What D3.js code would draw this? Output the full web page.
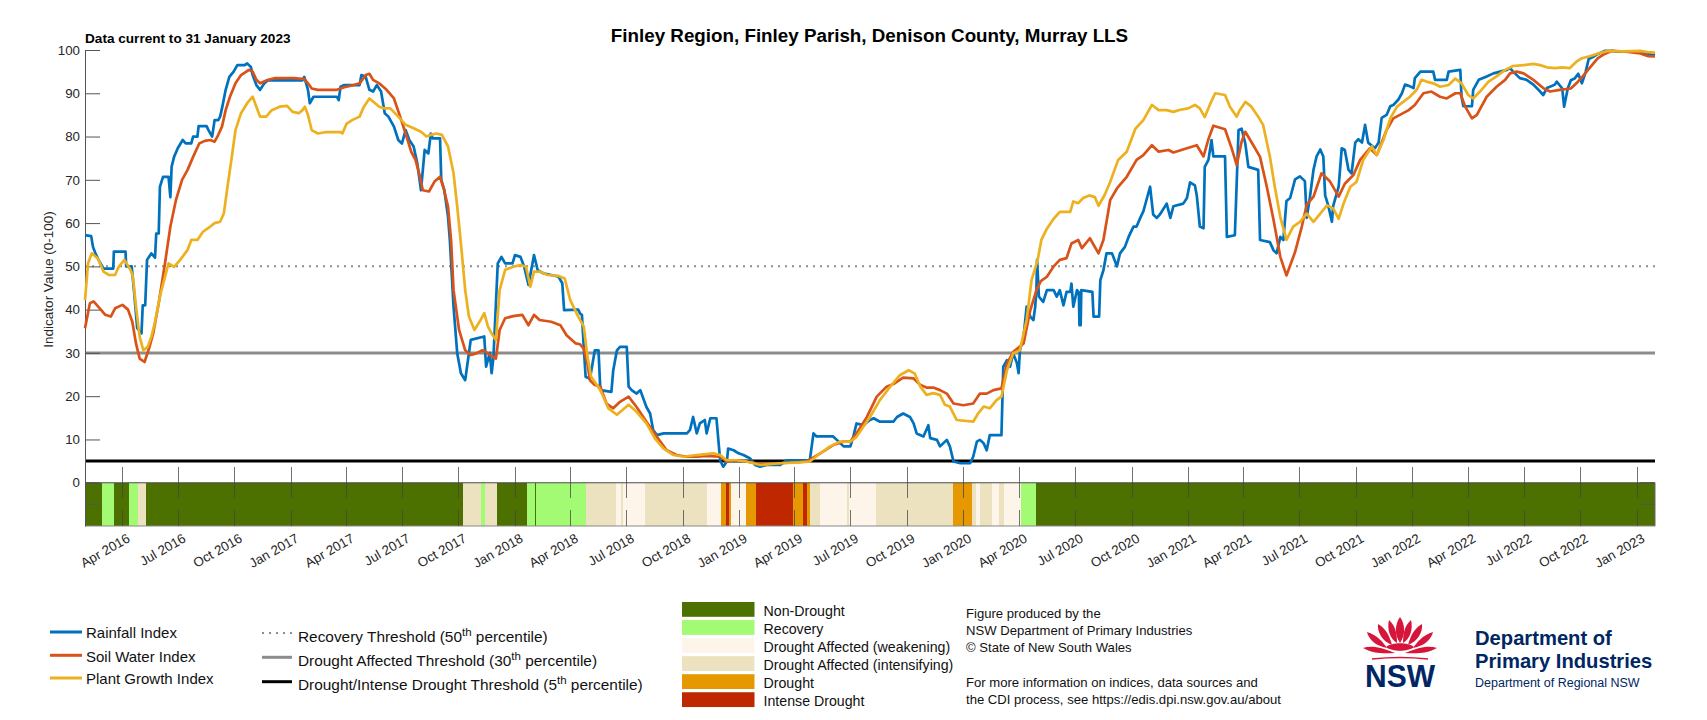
<!DOCTYPE html>
<html><head><meta charset="utf-8">
<script src="https://cdn.jsdelivr.net/npm/d3@7"></script>
<style>
body{margin:0;background:#fff}
text{font-family:"Liberation Sans",Arial,Helvetica,sans-serif}
</style>
</head><body>
<svg id="chart" width="1707" height="720"></svg>
<script>
// ---------------- DATA ----------------
const startDate = "2016-02-01";   // day 0 of the series
const endDate = "2023-01-31";
const chartTitle = "Finley Region, Finley Parish, Denison County, Murray LLS";
const dataNote = "Data current to 31 January 2023";
const yTickValues = [0,10,20,30,40,50,60,70,80,90,100];

// [days since startDate, index value]
const rainfallIndex = [[0,57.2],[10,57],[13,54.5],[17,53],[22,51.5],[30,49.5],[46,49.5],[47,53.4],[66,53.4],[67,50],[76,50],[80,44],[85,35.7],[92,34.5],[94,41],[98,41],[101,51.5],[108,53],[114,52],[116,57.6],[120,57.6],[122,68.4],[127,70.7],[136,70.7],[139,66],[141,73],[145,75.3],[151,77.3],[159,79.2],[164,78.4],[173,78.4],[176,80],[183,80],[185,82.4],[198,82.4],[201,81.5],[207,80],[211,83.8],[217,83.8],[220,84.6],[223,86.5],[229,90.8],[235,93.8],[242,95],[248,96.5],[260,96.5],[264,96.9],[270,96.1],[273,94.2],[279,91.9],[285,90.8],[292,92.3],[298,93],[354,93],[357,93.8],[360,92.3],[363,90.8],[366,87.7],[372,89.2],[410,89.2],[413,88.4],[416,91.5],[422,91.9],[447,91.9],[450,94.2],[457,93.8],[463,90.8],[469,90.4],[475,91.9],[482,90.4],[488,85.4],[494,84.6],[503,82.3],[510,79.2],[516,78.4],[522,81.5],[528,79.2],[535,77.7],[541,73.8],[547,67.6],[553,76.9],[559,76.1],[563,80.7],[566,79.6],[578,79.6],[580,70],[585,67.6],[591,61.5],[594,56],[600,40.7],[606,29.9],[612,25.3],[619,23.7],[622,26.8],[628,33],[650,33.8],[653,26.8],[659,30],[662,25.3],[665,29.1],[672,50.7],[678,52.2],[684,50.7],[696,50.7],[700,52.6],[709,52.2],[715,49.9],[722,45.7],[731,52.6],[737,49.1],[746,48.4],[759,48],[771,47.6],[777,46.1],[780,39.9],[803,40],[806,39.1],[809,38.8],[812,31.4],[815,24.5],[822,24],[830,30.6],[836,30.6],[839,21.4],[857,21],[860,26],[866,30.6],[871,31.4],[882,31.4],[885,22.2],[890,21.4],[898,20.6],[904,21.4],[914,17.5],[920,16],[925,12.2],[931,11],[942,11.4],[980,11.4],[985,12.2],[990,15.2],[996,11.4],[1001,13.7],[1009,14.5],[1012,11.4],[1018,14.9],[1028,14.9],[1034,5.2],[1039,3.7],[1045,4.9],[1047,7.9],[1056,7.5],[1064,6.8],[1072,6.4],[1083,5.6],[1091,4.1],[1099,3.7],[1110,4.1],[1132,4.1],[1142,5.2],[1180,5.2],[1186,11.4],[1191,10.7],[1218,10.7],[1224,9.9],[1235,8.4],[1246,8.4],[1251,10.7],[1256,13.7],[1267,13.3],[1278,14.5],[1284,14.9],[1294,14.1],[1316,14.1],[1322,15.2],[1332,16],[1343,15.2],[1349,13.7],[1354,11.4],[1365,10.7],[1373,13.3],[1376,10.3],[1387,9.9],[1392,8.4],[1403,9.9],[1408,8.4],[1414,4.9],[1425,4.5],[1441,4.5],[1446,6],[1452,9.5],[1457,9.9],[1463,9.1],[1468,7.5],[1473,11],[1492,11],[1495,26.8],[1501,28.3],[1506,26.8],[1511,29.9],[1517,27.7],[1520,25.3],[1522,30.6],[1528,33.7],[1533,40.7],[1539,38.4],[1544,37.6],[1547,40.7],[1549,45],[1550,51.5],[1553,43],[1560,41.8],[1566,44.5],[1577,44.5],[1582,43],[1587,44.5],[1593,41],[1598,44.1],[1604,44.1],[1606,46],[1609,40.7],[1615,44.5],[1618,44],[1619,36.4],[1621,36.4],[1622,44.5],[1640,44.1],[1642,38.4],[1651,38.4],[1653,46.8],[1658,49.1],[1663,53],[1672,53],[1680,50],[1685,53],[1693,54.5],[1699,56.8],[1707,59.2],[1712,59.2],[1718,61.2],[1723,62.7],[1729,65.8],[1734,68.4],[1739,62],[1745,61.2],[1750,62],[1761,64.5],[1767,61.2],[1772,63.9],[1788,64.5],[1794,65.8],[1799,69.4],[1807,68.7],[1810,66.4],[1815,59.2],[1821,58.8],[1823,73],[1829,74.6],[1834,79.2],[1837,75.4],[1856,75.4],[1859,56.8],[1872,57.2],[1878,81.5],[1883,81.8],[1889,78.4],[1894,73],[1910,72.3],[1913,56.1],[1929,55.6],[1935,53.7],[1940,53],[1946,56.8],[1951,56.1],[1956,65.1],[1962,65.8],[1970,70.1],[1978,70.8],[1986,69.7],[1989,61.2],[1994,65.8],[2000,72.3],[2005,75.4],[2011,77],[2016,75.4],[2019,66.4],[2024,64.1],[2030,60.3],[2032,63.9],[2041,68.4],[2046,77.3],[2051,76.9],[2057,72.3],[2062,71.5],[2068,78.6],[2073,79.4],[2079,78.6],[2084,82.7],[2089,78.6],[2100,77.3],[2106,78.6],[2111,84.3],[2119,85],[2125,87],[2130,87.3],[2138,88.5],[2144,90],[2149,92],[2157,91.6],[2163,91.2],[2165,93.5],[2174,95],[2195,95],[2198,93.1],[2217,93.1],[2220,95],[2239,95.4],[2241,89.2],[2244,87],[2258,87],[2260,90.8],[2269,93.1],[2282,93.9],[2293,94.6],[2304,95],[2315,95.4],[2320,95.8],[2325,95],[2336,93.5],[2347,93.1],[2358,92],[2369,90.4],[2374,89.6],[2380,91.2],[2393,92],[2396,92.7],[2405,91.1],[2408,86.9],[2414,91.1],[2419,93],[2425,93.4],[2431,94.5],[2437,92.3],[2443,94.9],[2448,97.9],[2454,98.3],[2463,99.1],[2474,99.8],[2486,99.8],[2498,99.6],[2532,99.6],[2541,99.2],[2556,98.8]];

const soilWaterIndex = [[0,35.7],[8,41.5],[14,41.9],[24,40.3],[33,38.8],[42,38.4],[49,40.3],[61,41.1],[70,40],[77,37.2],[83,32.2],[89,28.7],[97,27.9],[105,31.4],[111,34.5],[120,41.5],[130,50.5],[139,59.2],[148,65.3],[158,70],[167,72.3],[176,75.3],[186,78.4],[195,79],[204,79.2],[211,78.8],[217,80.4],[223,82.3],[229,86.1],[236,89.2],[245,92.3],[254,94.2],[267,95.4],[273,95],[279,93.1],[285,92.3],[298,93.1],[310,93.5],[341,93.5],[357,93.3],[363,92.3],[369,91.1],[379,90.8],[410,90.8],[422,91.4],[435,91.8],[447,92.3],[457,94.2],[463,94.5],[469,93.1],[479,92.3],[491,90.8],[503,88.8],[513,84.6],[522,80.7],[531,76.5],[538,74.6],[544,71.5],[550,67.6],[560,67.3],[569,69.6],[578,70.7],[584,68],[591,63.8],[596,56],[600,44.5],[609,35.3],[619,30.6],[628,29.5],[637,29.9],[647,30.6],[653,30.2],[659,29.5],[669,28.7],[675,35.3],[684,38],[697,38.5],[712,38.8],[722,36.4],[731,38.8],[740,37.6],[759,37.2],[774,36.4],[784,34.1],[799,32.2],[806,32],[812,31],[818,27.5],[822,23.7],[830,22.6],[839,22.2],[849,18.3],[860,17.2],[871,18.7],[885,19.9],[898,17.5],[914,14.1],[931,10.6],[947,7.5],[963,6.4],[980,6],[996,6],[1012,6.2],[1034,6],[1045,4.9],[1056,5.2],[1077,4.9],[1099,4.3],[1132,4.5],[1175,4.9],[1197,6.8],[1218,8.7],[1235,9.5],[1246,9.5],[1256,11.4],[1273,15.2],[1289,19.9],[1305,22.2],[1316,22.8],[1332,24.3],[1349,24.1],[1360,22.6],[1370,22],[1381,22],[1392,21.4],[1403,20.6],[1414,18.3],[1430,17.9],[1446,18.3],[1457,20.6],[1468,20.6],[1479,21.4],[1492,21.8],[1501,27.5],[1511,30.2],[1528,32.2],[1539,39.9],[1549,44.5],[1556,46.6],[1566,47.6],[1577,50],[1587,51.5],[1598,51.9],[1606,55.3],[1617,56.1],[1623,54.2],[1636,56.5],[1650,53],[1658,56.1],[1669,65.3],[1680,68],[1696,70.7],[1712,74.6],[1723,75.7],[1737,78],[1748,76.5],[1764,76.9],[1772,76.3],[1794,77.3],[1810,78],[1821,75.4],[1829,79.4],[1837,82.5],[1856,81.7],[1867,77.2],[1875,73.4],[1883,78.8],[1889,81.1],[1902,78],[1913,75.3],[1924,68.4],[1935,60.7],[1946,52.2],[1956,47.9],[1970,53.3],[1981,59.2],[1989,64.2],[2000,66.1],[2013,71.5],[2027,69.6],[2041,66.1],[2051,69.1],[2065,71.1],[2076,74.6],[2092,77.3],[2103,75.7],[2119,81.5],[2130,84.2],[2146,85.4],[2155,86.1],[2165,87.3],[2179,90],[2192,90.4],[2206,89.2],[2217,88.8],[2231,90],[2239,90],[2247,86.9],[2258,84.2],[2266,85],[2282,89.2],[2298,91.5],[2312,93.1],[2320,94.6],[2331,95],[2342,94.6],[2358,93.1],[2374,91.2],[2385,90.4],[2401,90.8],[2419,91.1],[2428,92.3],[2440,94.2],[2451,96.1],[2463,98.1],[2474,99.1],[2486,99.8],[2509,99.6],[2532,99.2],[2544,98.6],[2556,98.5]];

const plantGrowthIndex = [[0,42.2],[5,50.7],[11,53],[21,51.8],[30,48.8],[39,48],[49,48],[55,49.9],[64,51.5],[74,49.2],[78,47.6],[83,40.7],[89,33.7],[95,30.6],[102,31.4],[108,33.7],[114,37.2],[123,43.7],[136,50.7],[145,49.9],[155,51.5],[167,53.8],[173,56.1],[183,56.1],[192,58],[204,59.2],[211,60],[220,60.3],[226,62.2],[232,68.4],[239,75.3],[245,81.5],[254,85.4],[264,87.7],[273,89.2],[279,86.9],[285,84.6],[295,84.6],[304,86.1],[317,86.9],[329,87.1],[338,85.7],[348,85.4],[354,86.1],[358,86.9],[363,85],[369,81.5],[379,80.7],[391,81],[416,81],[419,80.7],[426,83],[435,83.8],[447,84.6],[454,86.9],[463,88.8],[469,88.1],[479,86.9],[488,86.5],[497,86.5],[510,84.6],[522,82.7],[535,81.9],[547,81.1],[556,80],[563,80.4],[572,80.7],[581,80.4],[591,77.7],[600,71.5],[606,63.8],[612,55.3],[619,44.5],[625,38.4],[634,35.3],[644,37.6],[650,39.2],[656,36.1],[662,34.5],[669,33],[675,44.5],[684,49.2],[697,49.9],[709,50.3],[718,49.9],[725,45.3],[731,48.8],[740,48.8],[753,48],[771,47.8],[781,47.2],[790,42.2],[803,38.4],[812,36.1],[818,29.1],[824,24.5],[839,21.4],[852,17.2],[866,15.7],[885,18],[898,16.4],[914,13.7],[928,10.2],[942,7.9],[958,6.4],[974,6],[996,6.4],[1023,6.8],[1034,6.4],[1045,5.2],[1061,5.2],[1077,4.9],[1099,4.1],[1132,4.5],[1164,4.7],[1180,4.9],[1197,6.8],[1213,8.4],[1229,9.5],[1246,9.5],[1256,10.6],[1278,15.2],[1294,19.1],[1311,22.2],[1327,24.9],[1341,26],[1351,25.2],[1360,22.2],[1370,20.3],[1381,20.7],[1392,20.3],[1400,18],[1408,17.6],[1419,14.5],[1446,14.1],[1454,16],[1463,17.6],[1473,17.2],[1484,19.1],[1492,19.9],[1501,26],[1511,29.9],[1522,30.6],[1533,37.6],[1541,46.8],[1551,51.5],[1557,56.1],[1566,58.7],[1577,61],[1587,62.6],[1598,62.6],[1604,62.6],[1609,65],[1617,64.6],[1625,65.8],[1635,66.4],[1644,66],[1650,64],[1660,66.5],[1669,69.5],[1682,74.6],[1696,76.5],[1710,81.8],[1723,83.8],[1737,87.3],[1748,86.1],[1761,86.1],[1772,85.7],[1783,86.2],[1796,86.5],[1807,87.3],[1815,86.5],[1823,84.5],[1832,87.6],[1840,90],[1856,89.6],[1864,86.9],[1875,84.6],[1880,86.1],[1889,88],[1899,86.9],[1910,84.6],[1918,82.7],[1929,75.4],[1937,68.4],[1946,61.4],[1956,56.1],[1967,59.2],[1978,60.3],[1989,62.2],[2000,60.3],[2011,62.2],[2022,64.1],[2032,63.4],[2041,61],[2049,64.5],[2060,68.4],[2070,69.5],[2081,74.6],[2095,77.7],[2103,75.7],[2114,79.2],[2125,84.2],[2136,86.9],[2146,88],[2157,89.2],[2168,90.8],[2176,93.1],[2184,92.7],[2195,92.3],[2206,91.5],[2220,91.9],[2231,93.4],[2241,92.3],[2252,89.6],[2260,88.8],[2271,90.4],[2285,92.7],[2298,93.9],[2312,95.4],[2325,96.3],[2342,96.5],[2358,96.8],[2369,96.5],[2380,96],[2393,95.8],[2405,96],[2417,95.8],[2428,97.3],[2437,98.1],[2451,98.6],[2463,99.2],[2480,99.8],[2503,99.7],[2532,99.8],[2544,99.5],[2556,99.4]];

const seriesNames = ["Rainfall Index","Soil Water Index","Plant Growth Index"];
const seriesColors = ["#0072BD","#D95319","#EDB120"];

const thresholdValues = [50,30,5];
const thresholdNames = ["Recovery Threshold (50","Drought Affected Threshold (30","Drought/Intense Drought Threshold (5"];

const categoryNames = ["Non-Drought","Recovery","Drought Affected (weakening)","Drought Affected (intensifying)","Drought","Intense Drought"];
const categoryColors = ["#4C7100","#A3FB73","#FDF5EA","#EDE2BF","#E69800","#BE2700"];

// CDI phase changes: start date and category index
const cdiStarts = ["2016-02-01","2016-02-29","2016-03-19","2016-04-12","2016-04-28","2016-05-10","2017-10-08","2017-11-06","2017-11-13","2017-12-03","2018-01-20","2018-02-02","2018-02-05","2018-04-26","2018-06-14","2018-06-22","2018-06-26","2018-07-31","2018-11-09","2018-12-02","2018-12-10","2018-12-15","2018-12-18","2019-01-12","2019-01-28","2019-03-30","2019-04-15","2019-04-21","2019-04-26","2019-05-12","2019-06-26","2019-06-29","2019-08-11","2019-12-15","2020-01-15","2020-01-22","2020-01-28","2020-02-17","2020-02-28","2020-03-07","2020-04-04","2020-04-28"];
const cdiCategory = [0,1,0,1,3,0,3,1,3,0,1,0,1,3,2,3,2,3,2,4,5,4,2,4,5,4,5,4,3,2,3,2,3,4,3,2,3,2,3,2,1,0];

const creditLines = ["Figure produced by the","NSW Department of Primary Industries","\u00A9 State of New South Wales","","For more information on indices, data sources and","the CDI process, see https://edis.dpi.nsw.gov.au/about"];

// ---------------- DRAW ----------------
const svg = d3.select("#chart");
svg.append("rect").attr("width",1707).attr("height",720).attr("fill","#fff");
const parse = d3.utcParse("%Y-%m-%d");
const t0 = parse(startDate), t1 = parse(endDate);
const toDate = d => d3.utcDay.offset(t0, d);

const x = d3.scaleUtc().domain([t0, t1]).range([85, 1655]);
const y = d3.scaleLinear().domain([-10, 100]).range([526, 50]);

// CDI strip
const segs = cdiStarts.map((s,i)=>({
  a: parse(s),
  b: i < cdiStarts.length-1 ? parse(cdiStarts[i+1]) : t1,
  c: cdiCategory[i]
}));
svg.append("g").attr("shape-rendering","crispEdges").selectAll("rect").data(segs).join("rect")
  .attr("x", d=>x(d.a)).attr("width", d=>Math.max(0.5, x(d.b)-x(d.a)+0.3))
  .attr("y", y(0)).attr("height", y(-10)-y(0))
  .attr("fill", d=>categoryColors[d.c]);

// strip frame
svg.append("line").attr("x1",85).attr("x2",1655).attr("y1",y(0)).attr("y2",y(0)).attr("stroke","#4a4a4a").attr("stroke-width",1.2);
svg.append("line").attr("x1",85).attr("x2",1655).attr("y1",y(-10)).attr("y2",y(-10)).attr("stroke","#8a8a8a").attr("stroke-width",1.2);
svg.append("line").attr("x1",1655).attr("x2",1655).attr("y1",y(0)).attr("y2",y(-10)).attr("stroke","#6a6a6a").attr("stroke-width",1);
[0,-5].forEach(v=>{
  svg.append("line").attr("x1",1640).attr("x2",1655).attr("y1",y(v)).attr("y2",y(v)).attr("stroke","#555").attr("stroke-width",1);
  svg.append("line").attr("x1",85).attr("x2",100).attr("y1",y(v)).attr("y2",y(v)).attr("stroke","#555").attr("stroke-width",1);
});

// thresholds
const thrStyle = [{c:"#8c8c8c",w:2,dash:"2,5"},{c:"#8c8c8c",w:3,dash:null},{c:"#000",w:3,dash:null}];
thresholdValues.forEach((v,i)=>{
  svg.append("line").attr("x1",85).attr("x2",1655).attr("y1",y(v)).attr("y2",y(v))
    .attr("stroke",thrStyle[i].c).attr("stroke-width",thrStyle[i].w)
    .attr("stroke-dasharray",thrStyle[i].dash);
});

// x ticks
const xTicks = x.ticks(d3.utcMonth.every(3)).filter(d=>d>t0);
const xg = svg.append("g");
xTicks.forEach(d=>{
  const px = Math.round(x(d))+0.5;
  xg.append("line").attr("x1",px).attr("x2",px).attr("y1",467).attr("y2",498).attr("stroke","#444").attr("stroke-opacity",0.75);
  xg.append("line").attr("x1",px).attr("x2",px).attr("y1",510).attr("y2",526).attr("stroke","#444").attr("stroke-opacity",0.75);
});
const fmt = d3.utcFormat("%b %Y");
xg.selectAll("text.xl").data(xTicks).join("text").attr("class","xl")
  .attr("transform", d=>`translate(${x(d)+9},${541}) rotate(-30)`)
  .attr("text-anchor","end").attr("font-size",13.3).attr("fill","#262626")
  .text(d=>fmt(d));

// y axis
const yAxis = d3.axisLeft(y).tickValues(yTickValues).tickSize(-15).tickSizeOuter(0).tickPadding(5);
const yg = svg.append("g").attr("transform","translate(85,0)").call(yAxis);
yg.select(".domain").attr("stroke","#555");
yg.selectAll(".tick line").attr("stroke","#555");
yg.selectAll(".tick text").attr("font-size",13.3).attr("fill","#262626")
  .style("font-family",'"Liberation Sans",Arial,sans-serif');
svg.append("text").attr("transform",`translate(53,${279.5}) rotate(-90)`).attr("text-anchor","middle")
  .attr("font-size",13.5).attr("fill","#262626").text("Indicator Value (0-100)");

// series lines
const line = d3.line().x(d=>x(toDate(d[0]))).y(d=>y(d[1]));
[rainfallIndex, soilWaterIndex, plantGrowthIndex].forEach((s,i)=>{
  svg.append("path").datum(s).attr("d",line).attr("fill","none")
    .attr("stroke",seriesColors[i]).attr("stroke-width",2.7).attr("stroke-linejoin","round");
});

// titles
svg.append("text").attr("x",869.5).attr("y",41.5).attr("text-anchor","middle")
  .attr("font-size",18.8).attr("font-weight","bold").attr("fill","#000").text(chartTitle);
svg.append("text").attr("x",85).attr("y",43).attr("font-size",13.6).attr("font-weight","bold").attr("fill","#000").text(dataNote);

// legend: series
const serY = [632, 655.3, 678];
seriesNames.forEach((n,i)=>{
  svg.append("line").attr("x1",50).attr("x2",82).attr("y1",serY[i]).attr("y2",serY[i]).attr("stroke",seriesColors[i]).attr("stroke-width",3);
  svg.append("text").attr("x",86).attr("y",serY[i]+6.3).attr("font-size",15).attr("fill","#111").text(n);
});
// legend: thresholds
const thrY = [633, 657.3, 681.7];
thresholdNames.forEach((n,i)=>{
  svg.append("line").attr("x1",262).attr("x2",292).attr("y1",thrY[i]).attr("y2",thrY[i])
    .attr("stroke",thrStyle[i].c).attr("stroke-width",i===0?2:3).attr("stroke-dasharray",thrStyle[i].dash);
  const t = svg.append("text").attr("x",298).attr("y",thrY[i]+8.5).attr("font-size",15.4).attr("fill","#111");
  t.append("tspan").text(n);
  t.append("tspan").attr("font-size",11.5).attr("dy",-6).text("th");
  t.append("tspan").attr("dy",6).text(" percentile)");
});
// legend: categories
categoryNames.forEach((n,i)=>{
  const top = 602 + i*18.05;
  svg.append("rect").attr("x",682).attr("y",top).attr("width",72.5).attr("height",14.8).attr("fill",categoryColors[i]);
  svg.append("text").attr("x",763.5).attr("y",top+14).attr("font-size",14.2).attr("fill","#111").text(n);
});
// credits
creditLines.forEach((s,i)=>{
  if(!s) return;
  svg.append("text").attr("x",966).attr("y",618 + i*17.2).attr("font-size",13.1).attr("fill","#111").text(s);
});

// logo
const navy = "#002664", red = "#D7153A";
const lg = svg.append("g").attr("transform","translate(1400,662)");
const petals = [
  "M0,-45 C5,-38 6,-28 0,-19 C-6,-28 -5,-38 0,-45 Z",
  "M-11,-42 C-4,-36 -3,-27 -3,-19 C-11,-24 -13,-34 -11,-42 Z",
  "M11,-42 C4,-36 3,-27 3,-19 C11,-24 13,-34 11,-42 Z",
  "M-22,-38 C-13,-33 -10,-24 -8,-17 C-18,-21 -23,-30 -22,-38 Z",
  "M22,-38 C13,-33 10,-24 8,-17 C18,-21 23,-30 22,-38 Z",
  "M-33,-30 C-23,-27 -17,-20 -13,-14 C-24,-16 -31,-22 -33,-30 Z",
  "M33,-30 C23,-27 17,-20 13,-14 C24,-16 31,-22 33,-30 Z",
  "M-37,-14 C-28,-9 -18,-8 -5,-9 C-17,-14 -28,-17 -37,-14 Z",
  "M37,-14 C28,-9 18,-8 5,-9 C17,-14 28,-17 37,-14 Z",
  "M-14,-15 C-8,-20 8,-20 14,-15 C8,-10 -8,-10 -14,-15 Z"
];
lg.selectAll("path.p").data(petals).join("path").attr("class","p").attr("d",d=>d).attr("fill",red);
lg.append("path").attr("d","M-28,-3 Q0,-6 28,-3").attr("fill","none").attr("stroke",red).attr("stroke-width",1.4);
svg.append("text").attr("x",1400).attr("y",687).attr("text-anchor","middle").attr("font-size",32).attr("font-weight","bold")
  .attr("fill",navy).attr("textLength",70).attr("lengthAdjust","spacingAndGlyphs").text("NSW");
svg.append("text").attr("x",1475).attr("y",645).attr("font-size",20.2).attr("font-weight","bold").attr("fill",navy).text("Department of");
svg.append("text").attr("x",1475).attr("y",667.5).attr("font-size",20.2).attr("font-weight","bold").attr("fill",navy).text("Primary Industries");
svg.append("text").attr("x",1475).attr("y",686.5).attr("font-size",12.5).attr("fill",navy).text("Department of Regional NSW");
</script>
</body></html>
